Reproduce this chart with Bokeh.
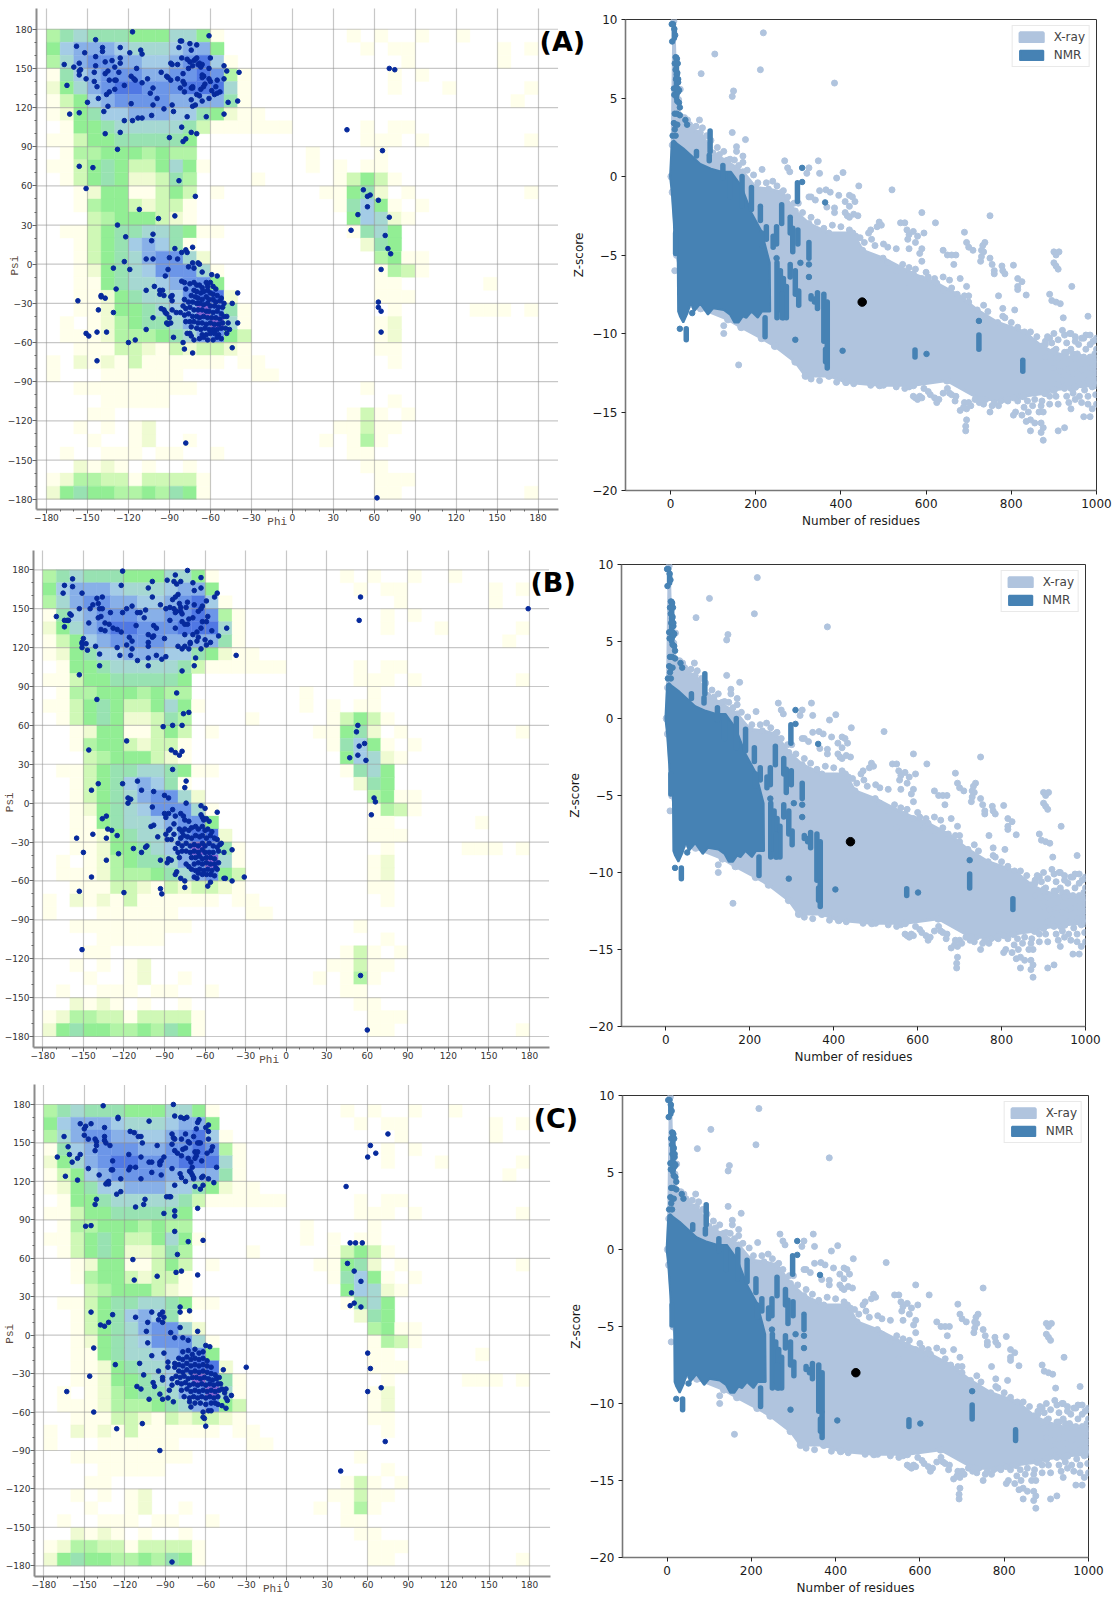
from bokeh.plotting import figure
from bokeh.models import FixedTicker, Label, Legend, LegendItem, Range1d
from bokeh.layouts import row, column
from bokeh.embed import file_html
from bokeh.resources import INLINE

# ---------- Ramachandran background: one row per 10 deg of psi (top = 170..180), one char per 10 deg of phi
RAMA_ROWS = [
 "dfgfffeeeggea....." "....a.a..a..a.....",
 "ehiiihggghiie....." ".....a.aa......a.a",
 "dgijjiihhijkha...." "........a......a..",
 "afhijjjiijjkjda..." ".......a.a........",
 "begijkkjjjkkkga..." ".......a...a.....a",
 "acehijjjjiiiifa..." "................a.",
 "abefhhiiihhfebaa.." "..................",
 ".aeefgggggfcaaaaaa" ".....a.aa.........",
 "aaceefffffe......." ".....aaa.a.......a",
 ".addeeededd......." ".a....a...........",
 "aacefeccegea......" ".a.a.aa...........",
 ".acefebbcfd....a.." "...aceca..........",
 "..abeeaacec.a....." "..aaefb.a........a",
 "..adeecbcca......." "...afhea.a........",
 "...cdeeecba......." "....ehgba.........",
 ".aaceffggfeaa....." "....afge..........",
 "..acefhihfa......." ".....bfe..........",
 "..acefgijjgb......" "......deaa........",
 "..abefghjjjga....." "......adca........",
 "..aaefgghijje....." "......aa......a...",
 "..aabefgghjkkb...." "......aaa.........",
 "..aabeefghimjfa..." ".......a.....aaa.a",
 ".a.abdeffgijmga..." "......ab..........",
 ".aaabdddefgijec..." "......ab..........",
 "..aaaccbacbccba..." "......aa..........",
 "a.babacaaaaaa.aa.." ".......a..........",
 "a...aaaaaa.....aa." "..................",
 "..aaaaaaaaa......." ".....a............",
 "....aaaaa........." ".......a..........",
 "...aa............." "....aca.a.........",
 "..a.a.ab.........." "...aacaa..........",
 "...a..ab..a......." "..a.ada...........",
 ".a..aaa.aa..a....." "....aa............",
 "..baba.a..a......." ".....aa...........",
 "abddccacccca......" "......aaa.........",
 "befeeddedfea......" "......aa.........a",
]
RAMA_COLORS = {"a":"#FFFFEB","b":"#EFFBD2","c":"#CFF8B6","d":"#B2F4A6","e":"#92EE94","f":"#98E2B2",
               "g":"#A6D8D2","h":"#A4CCE6","i":"#88B0E8","j":"#6C96E8","k":"#5078E4","m":"#8A68D2"}
RAMA_TICKS = [-180,-150,-120,-90,-60,-30,0,30,60,90,120,150,180]
RAMA_MINOR = [v for v in range(-180,181,10)]

# ---------- Ramachandran residues (phi, psi)
A_POINTS = [(-117,178),(-144,172),(-158,167),(-152,162),(-139,166),(-139,163),(-126,166),(-119,162),(-111,164),(-110,161),(-61,175),(-144,159),
(-167,153),(-160,151),(-156,154),(-155,149),(-156,148),(-156,145),(-151,142),(-144,152),(-137,155),(-132,156),(-126,158),(-126,154),(-130,151),(-127,147),
(-135,148),(-137,146),(-145,147),(-145,140),(-143,136),(-134,141),(-130,141),(-129,141),(-130,134),(-123,137),(-134,132),(-136,130),(-165,137),(-142,127),
(-150,124),(-118,123),(-102,122),(-138,117),(-135,121),(-156,116),(-163,115),(-123,110),(-117,110),(-113,112),(-110,112),(-103,114),(-87,117),(-88,122),
(-94,119),(-99,127),(-102,135),(-104,131),(-110,139),(-106,142),(-114,150),(-118,144),(-116,142),(-115,141),(-96,147),(-92,144),(-91,143),(-89,141),(-84,142),
(-89,154),(-88,153),(-84,153),(-83,166),(-82,171),(-81,171),(-75,169),(-74,164),(-70,168),(-81,158),(-80,146),(-80,140),(-79,138),(-82,135),(-79,132),
(-74,135),(-73,135),(-73,136),(-74,126),(-73,121),(-71,122),(-77,113),(-63,113),(-70,130),(-68,129),(-66,125),(-61,127),(-77,157),(-75,155),(-72,156),(-71,157),(-70,158),
(-76,150),(-73,152),(-68,154),(-67,152),(-66,153),(-60,158),(-61,150),(-66,145),(-65,144),(-65,144),(-66,143),(-61,142),(-60,140),(-55,141),(-64,138),(-65,136),(-67,134),
(-56,136),(-59,133),(-57,130),(-55,131),(-53,132),(-50,152),(-48,148),(-39,147),(-50,142),(-47,124),(-40,125),(-50,115),(-69,153),(-67,151),
(-90,97),(-81,105),(-74,101),(-70,100),(-80,94),(-78,96),(-137,100),(-126,101),(-128,88),(-156,75),(-146,74),(-83,64),(-151,58),(-71,52),(-112,42),(-98,35),(-86,37),(-128,30),
(-102,23),(-103,18),(-122,21),(-86,12),(-81,9),(-78,11),(-77,9),(-73,13),(-123,2),(-107,4),(-102,4),(-90,5),(-84,4),(-73,1),(-69,1),(-68,0),(-76,-2),(-72,-3),
(-131,-3),(-119,-4),(-91,-4),(-66,-6),(-59,-8),(-55,-9),(-93,-9),(-129,-19),(-107,-20),(-101,-17),(-97,-23),(-94,-24),(-97,-20),(-95,-20),(-89,-25),(-88,-24),(-88,-28),
(-140,-24),(-140,-25),(-137,-26),(-157,-28),(-142,-35),(-131,-37),(-102,-41),(-96,-34),(-94,-35),(-93,-37),(-92,-38),(-90,-41),(-92,-45),(-91,-46),(-89,-45),(-88,-35),(-85,-37),
(-107,-50),(-151,-53),(-149,-55),(-143,-52),(-136,-52),(-143,-74),(-120,-60),(-115,-58),(-87,-56),(-80,-60),(-79,-65),(-73,-68),(-44,-64),(-40,-22),(-44,-30),(-40,-45),
(-48,-40),(-47,-45),(-49,-49),(-48,-53),(-46,-50),(-78,-137),
(-81,-13),(-79,-14),(-78,-19),(-75,-15),(-72,-14),(-70,-16),(-68,-16),(-66,-18),(-63,-14),(-62,-17),(-60,-14),(-58,-17),(-56,-19),(-72,-20),(-70,-21),(-67,-22),(-65,-21),(-62,-20),
(-60,-22),(-58,-23),(-55,-24),(-52,-26),(-74,-24),(-71,-25),(-69,-26),(-66,-27),(-63,-25),(-61,-27),(-58,-27),(-56,-29),(-53,-28),(-50,-30),(-79,-27),(-76,-29),(-73,-29),(-70,-30),
(-68,-30),(-65,-31),(-62,-30),(-60,-32),(-57,-32),(-54,-33),(-51,-33),(-80,-32),(-78,-34),(-75,-33),(-72,-35),(-69,-35),(-66,-35),(-63,-36),(-61,-36),(-58,-37),(-55,-36),(-52,-38),
(-82,-37),(-79,-39),(-76,-38),(-73,-40),(-70,-40),(-68,-41),(-65,-40),(-62,-41),(-59,-41),(-56,-41),(-53,-42),(-50,-40),(-78,-44),(-75,-44),(-72,-44),(-69,-45),(-66,-45),(-63,-46),
(-60,-45),(-57,-46),(-54,-46),(-51,-45),(-74,-48),(-70,-49),(-67,-50),(-64,-49),(-61,-50),(-58,-50),(-55,-50),(-52,-49),(-75,-53),(-74,-55),(-66,-54),(-63,-54),(-60,-53),(-57,-53),
(-54,-54),(-68,-57),(-65,-56),(-62,-58),(-58,-58),(-55,-56),(-52,-57),(-72,-58),(-77,-53),
(71,150),(75,149),(40,103),(66,87),(52,57),(57,53),(55,52),(63,49),(55,44),(48,38),(71,36),(43,26),(68,22),(70,12),(72,8),(65,-4),(63,-29),(63,-33),(65,-36),(65,-52),(62,-179)]

B_POINTS = [(-121,179),(-73,179.5),(-158,173),(-164,168),(-158,167),(-165,162),(-151,162),(-122,168),(-102,166),(-99,171),(-99,159),(-82,176),(-88,172),(-83,171),(-81,169),(-78,171),
(-69,170),(-63,174),(-68,164),(-63,166),(-51,162),(-53,159),(-59,156),(-140,158),(-136,159),(-143,153),(-145,150),(-139,154),(-136,150),(-138,150),(-153,150),(-170,144),(-160,146),(-159,145),
(-164,141),(-162,141),(-161,141),(-164,136),(-146,139),(-139,143),(-137,144),(-134,139),(-131,138),(-137,134),(-134,133),(-128,135),(-125,134),(-122,132),(-130,147),(-121,147),(-118,150),
(-114,152),(-110,147),(-108,147),(-105,143),(-104,149),(-111,137),(-116,128),(-114,125),(-102,130),(-98,129),(-99,128),(-102,124),(-102,121),(-118,122),(-114,119),(-125,120),(-150,127),
(-151,124),(-151,123),(-151,120),(-148,123),(-147,118),(-141,121),(-138,115),(-138,106),(-123,114),(-115,114),(-110,110),(-102,112),(-96,114),(-92,111),(-89,113),(-102,106),(-153,99),(-77,102),
(-68,106),(-67,112),(-63,119),(-98,137),(-96,135),(-93,153),(-89,150),(-86,151),(-83,150),(-84,157),(-82,159),(-80,161),(-79,154),(-78,151),(-78,148),(-77,146),(-82,147),(-81,148),(-86,141),
(-73,155),(-74,151),(-68,153),(-77,140),(-75,138),(-73,138),(-72,142),(-69,143),(-82,135),(-75,130),(-90,127),(-80,121),(-77,119),(-75,121),(-72,119),(-71,123),(-71,124),(-69,130),(-66,132),
(-65,128),(-66,125),(-63,135),(-62,140),(-59,140),(-63,150),(-65,148),(-62,152),(-58,144),(-60,126),(-59,122),(-56,124),(-55,133),(-50,129),(-44,135),(-37,114),(-81,85),(-76,69),(-72,70),(-140,80),
(-91,59),(-84,60),(-77,60),(-118,48),(-146,41),(-85,41),(-82,39),(-79,37),(-77,40),(-84,26),(-139,15),(-144,10),(-121,15),(-110,17),(-107,10),(-98,9),(-74,17),(-75,12),(-90,6),(-87,4),(-117,4),
(-115,3),(-117,0),(-74,0),(-99,-3),(-63,-2),(-60,-4),(-51,-7),(-133,-10),(-136,-12),(-132,-20),(-129,-21),(-125,-25),(-143,-24),(-133,-27),(-155,-27),(-150,-38),(-124,-39),(-133,-44),(-144,-57),
(-153,-68),(-120,-69),(-151,-113),(-100,-18),(-98,-17),(-95,-26),(-113,-35),(-107,-38),(-104,-34),(-103,-33),(-93,-44),(-88,-46),(-87,-43),(-85,-44),(-93,-66),(-92,-70),(-82,-55),(-81,-53),
(-78,-58),(-75,-60),(-75,-65),(-68,-57),(-66,-58),(-58,-64),(-56,-61),(-53,-56),(-46,-58),(-45,-58),(-40,-60),(-31,-57),(-46,-38),(-40,-36),(-49,-32),(-48,-31),
(-89,-11),(-90,-8),(-87,-8),(-84,-5),(-82,-10),(-89,-24),(-87,-21),(-86,-20),(-83,-16),(-83,-24),(-88,-28),(-85,-28),
(-78,-8),(-76,-10),(-75,-13),(-72,-14),(-63,-9),(-62,-11),(-61,-13),(-59,-12),(-57,-14),(-79,-20),(-77,-22),(-75,-20),(-72,-21),(-70,-19),(-67,-18),(-65,-20),(-62,-18),(-60,-21),(-58,-20),(-55,-22),
(-78,-27),(-76,-25),(-73,-26),(-70,-27),(-67,-25),(-64,-26),(-62,-25),(-59,-27),(-56,-25),(-53,-27),(-51,-28),(-80,-31),(-77,-33),(-74,-31),(-71,-33),(-68,-32),(-65,-33),(-62,-31),(-60,-33),(-57,-31),
(-54,-33),(-51,-34),(-82,-35),(-80,-38),(-77,-37),(-74,-37),(-71,-38),(-68,-37),(-65,-38),(-62,-36),(-60,-38),(-57,-38),(-54,-38),(-50,-37),(-79,-42),(-70,-42),(-67,-42),(-64,-41),(-62,-43),(-59,-42),
(-56,-42),(-53,-43),(-74,-47),(-68,-47),(-65,-46),(-62,-47),(-59,-46),(-56,-47),(-53,-47),(-50,-46),(-70,-51),(-67,-52),(-64,-51),(-61,-52),(-58,-51),(-55,-52),(-51,-51),(-65,-54),(-62,-55),(-59,-55),(-56,-55),
(-72,-49),(-52,-50),
(55,159),(54,141),(179,150),(53,60),(52,55),(58,46),(54,44),(53,37),(47,35),(59,33),(65,4),(66,1),(63,-9),(55,-133),(60,-175)]

C_POINTS = [(-136,179),(-84,180),(-83,171),(-78.5,170),(-76,169),(-74,170),(-125,170),(-125,169),(-102,167),(-153,165),(-145,165),(-149,163),(-150,161),(-150,156),(-135,162),(-165,155),
(-147,153),(-142,153),(-141,151),(-141,148),(-135,155),(-135,152),(-134,150),(-131,148),(-162,147),(-161,141),(-159,135),(-155,138),(-153,141),(-170,139),(-142,144),(-147,130),(-164,124),(-155,121),
(-139,125),(-129,136),(-130,129),(-129,129),(-132,120),(-133,119),(-134,118),(-132,118),(-123,122),(-126,110),(-123,112),(-117,141),(-108,139),(-107,150),(-116,159),(-113,158),(-110,155),(-108,155),
(-96,148),(-116,131),(-117,129),(-112,131),(-108,122),(-100,127),(-93,125),(-102,135),(-100,135),(-94,133),(-94,135),(-93,136),(-91,139),(-85,130),(-85,157),(-84,154),(-83,153),(-85,149),(-78,153),
(-75,157),(-73,151),(-72,150),(-69,155),(-83,144),(-81,142),(-78,140),(-77,145),(-75,146),(-73,138),(-71,135),(-70,131),(-79,126),(-78,123),(-75,120),(-72,128),(-71,127),(-70,125),(-69,123),(-69,122),
(-63,123),(-62,124),(-65,150),(-64,150),(-66,150),(-67,161),(-66,166),(-65,168),(-60,162),(-58,164),(-58,159),(-58,153),(-59,142),(-56,144),(-55,147),(-68,143),(-66,143),(-67,140),(-68,138),(-63,136),
(-52,131),(-58,122),(-54,119),(-83,117),(-68,116),(-64,114),(-62,117),(-89,108),(-87,108),(-86,108),(-105,106),(-106,102),(-112,100),(-141,106),(-142,102),(-91,95),(-83,97),(-83,93),(-66,99),(-149,85),
(-145,85.5),(-83,81),(-73,73),(-62,74),(-81,63),(-114,59),(-82,49),(-78,50),(-96,46),(-113,43),(-66,47),(-79,22),(-79,18),(-72,19),(-92,18),(-94,16),(-95,12),(-91,14),(-92,10),(-100,18),(-112,14),(-103,10),
(-129,16),(-132,10),(-135,7),(-138,8),(-145,18),(-104,3),(-86,2),(-79,6),(-66,3),(-83,-2),(-77,-2),(-73,-4),(-103,-6),(-100,-16),(-91,-14),(-143,-10),(-57,-9),(-60,-8),(-127,-23),(-109,-22),(-106,-31),
(-146,-32),(-163,-44),(-95,-28),(-88,-21),(-88,-25),(-83,-22),(-83,-25),(-111,-40),(-108,-42),(-102,-50),(-99,-37),(-98,-40),(-92,-33),(-92,-35),(-94,-46),(-92,-50),(-88,-49),(-87,-43),(-85,-39),(-84,-52),
(-85,-34),(-143,-60),(-126,-73),(-107,-69),(-94,-90),(-85,-177),(-30,-25),(-47,-27),(-62,-64),(-61,-65),(-60,-71),(-62,-60),(-58,-59),(-56,-59),(-51,-54),(-48,-55),(-45,-57),(-41,-47),(-45,-42),(-44,-51),
(-46,-45),(-45,-49),(-48,-42),(-49,-38),(-71,-56),
(-77,-13),(-73,-12),(-70,-15),(-68,-11),(-65,-14),(-62,-13),(-80,-18),(-77,-19),(-74,-17),(-71,-19),(-68,-18),(-65,-19),(-62,-18),(-59,-20),(-80,-23),(-77,-24),(-74,-22),(-71,-24),(-68,-23),(-65,-24),(-62,-23),
(-59,-24),(-56,-25),(-80,-28),(-77,-29),(-74,-27),(-71,-29),(-68,-28),(-65,-29),(-62,-28),(-59,-29),(-56,-30),(-53,-31),(-82,-32),(-79,-33),(-76,-32),(-73,-34),(-70,-33),(-67,-33),(-64,-34),(-61,-33),(-58,-34),
(-55,-35),(-52,-34),(-50,-33),(-81,-37),(-78,-38),(-75,-37),(-72,-39),(-69,-38),(-66,-39),(-63,-38),(-60,-39),(-57,-38),(-54,-39),(-51,-38),(-78,-43),(-74,-42),(-71,-44),(-68,-43),(-65,-44),(-62,-43),(-59,-44),
(-56,-43),(-53,-44),(-50,-43),(-76,-48),(-72,-49),(-69,-48),(-66,-49),(-63,-48),(-60,-49),(-57,-48),(-54,-49),(-51,-48),(-72,-52),(-68,-53),(-64,-53),(-60,-54),(-56,-53),(-53,-53),
(51,72),(47,72),(56,72),(44,116),(60,139),(62,148),(66,142),(75,157),(45,56),(50,50),(55,42),(48,33),(50,25),(47,23),(55,22),(62,-26),(60,-44),(60,-14),(70,-41),(73,-83),(40,-106)]

# ---------- Z-score scatter: outline of the filled X-ray and NMR clouds (residues, z)
XRAY_TOP_N = [4,8,12,15,30,50,70,100,130,170,200,230,261,293,325,372,428,451,499,570,625,673,720,768,831,871,900,950,1000]
XRAY_TOP_Z = [2,9.9,6,4.5,3.5,3,2.8,1.5,1,0.3,-0.7,-0.8,-1,-2.2,-3,-3.6,-3.6,-4.7,-5.2,-6.2,-6.8,-7.5,-8.5,-9.3,-9.9,-10.8,-11.2,-11.6,-11.6]
XRAY_LOW_N = [1000,950,900,879,828,790,728,649,570,491,412,372,317,293,245,214,166,135,71,40,15,5,2]
XRAY_LOW_Z = [-13.3,-13.4,-13.6,-13.8,-14,-14.2,-14.2,-13,-13.3,-13.3,-13.1,-12.7,-12.7,-11.8,-10.8,-10.3,-9.6,-9.1,-8.4,-8.2,-5,-1,0]
NMR_TOP_N = [-1,3,8,15,30,50,70,95,120,142,166,190,214,233]
NMR_TOP_Z = [0,2.2,2.3,2.1,1.8,1.3,0.8,0.5,0.3,0.3,-0.6,-2.3,-3.5,-5.5]
NMR_LOW_N = [234,215,205,190,178,170,160,150,140,125,100,88,70,55,48,40,30,22,18,17,10,8,3]
NMR_LOW_Z = [-8.6,-8.6,-9,-8.6,-9,-8.9,-9.3,-9.3,-8.8,-8.5,-8.4,-8.8,-8.1,-8.6,-8,-8.7,-9.3,-8.9,-8.6,-5,-4.6,-3,-1]

# ---------- X-ray residues outside the filled cloud
XRAY_N = [218,104,72,211,385,23,145,148,19,40,33,25,68,145,176,110,125,155,155,135,150,170,170,268,347,180,215,275,280,325,350,405,390,320,442,520,350,365,375,395,420,427,433,410,325,330,300,340,367,385,385,420,410,415,430,420,440,590,750,622,540,550,490,495,485,690,555,560,570,580,557,595,575,470,465,472,500,510,530,560,590,585,640,650,660,670,695,700,710,730,738,733,735,730,728,750,755,760,760,778,780,785,805,815,825,815,815,835,900,905,912,900,905,910,942,890,895,905,915,922,980,808,780,780,770,665,680,695,700,700,660,620,615,640,600,590,605,550,530,510,
10,160,125,125,1000,950,930,900,880,890,920,940,975,965,985,1000,1000,960,975,945,905,915,880,940,960,980,1000,920,940,960,980,1000,990,970,985,940,935,910,890,870,850,830,815,810,805,825,840,865,875,845,835,855,870,875,870,875,845,910,925,695,693,693,695,680,690,700,670,655,650,625,620,610,575,585,595,750,770,760,725,740,780,795,560,500,
885,880,895,900,893,910,925,930,937,950,958,970,985,992,998,996,985,970,955,940,925,910,900,915,930,945,965,985,998,910,925,945,960,972,990,998,980,965,950,930,905,890,872,855,838,820,805,792,775,755,735,715,705,688,668,660,640,630,605,590,580,570,550,530,470,430,390,350,330,
560,545,575,590,480,455,445,435,420,400,380,360,345,330,310,290,275,265,250,240,225,205,195,160,140,115,95,85,75,60,45,640,655,690,735,745,785,800,815,845,860]
XRAY_Z = [9.15,7.8,6.55,6.8,5.95,5.55,5.1,5.45,4.9,3.6,3.75,3.8,3.6,2.8,2.35,1.85,1.6,1.6,1.9,1.05,1.05,1.3,0.9,1,1,0.4,0.45,0.55,0.3,0.55,0.2,0.25,-0.1,0.2,-0.6,-0.85,-0.9,-0.85,-1,-1.2,-1.2,-1.3,-1.6,-1.6,-1.3,-1.3,-1.7,-1.5,-1.95,-2,-2.3,-1.9,-2.3,-2.5,-2.4,-2.6,-2.5,-2.3,-2.5,-2.95,-2.95,-2.95,-2.9,-3.1,-3.2,-3.55,-3.4,-3.7,-3.5,-3.8,-4,-3.6,-4.2,-3.4,-3.6,-4,-4.3,-4.5,-4.6,-4.6,-4.6,-4.9,-4.7,-5,-5,-5,-4.2,-4.5,-4.7,-4.7,-4.2,-4.4,-4.8,-5.1,-5.4,-5.2,-5.6,-6,-6.2,-5.7,-6,-6.2,-5.65,-6.5,-6.7,-7,-7.2,-7.55,-4.8,-5,-4.8,-5.5,-5.7,-5.9,-7,-7.5,-7.9,-8,-8.1,-9,-8.9,-8.5,-8.4,-8.9,-7.6,-5.6,-6.5,-7,-7.6,-8,-7.1,-6.5,-7.1,-7.3,-6.1,-6.5,-6.4,-7.1,-6,-5.5,
-6,-12,-9.5,-10,-10.3,-10.5,-11.2,-10,-10.5,-10.3,-9.8,-10,-10.1,-10.3,-10.7,-11,-12,-11.5,-11,-11.3,-11,-11.5,-11.5,-12.2,-12.4,-13,-13,-13,-13.5,-14,-14.5,-14.5,-14.8,-15.3,-15.3,-14.8,-14.4,-14.5,-14.5,-14.6,-14.6,-14.7,-14.3,-15,-15.2,-15.2,-15,-15,-15,-15.5,-15.6,-15.7,-15.7,-16,-16.3,-16.8,-16.2,-16.2,-16,-15.5,-15.9,-16.2,-14.8,-14.9,-14.4,-14.4,-14,-13.8,-13.5,-14.4,-14.1,-13.9,-14.1,-14,-13.5,-15,-14.6,-14.4,-14.4,-14.2,-14.2,-14,-13.4,-13.3,
-10.2,-10.7,-10.6,-11.1,-11.6,-10.4,-10.1,-10.6,-10,-10.2,-10.7,-10.3,-10.1,-10.5,-10.4,-11.3,-11.5,-11.5,-11.3,-11,-11.2,-11.6,-12.2,-12.4,-12.3,-12.6,-12.3,-12.2,-12.5,-13.2,-13.5,-13.8,-13.2,-13.6,-13.4,-13.9,-14,-14.4,-14.2,-14,-14,-14,-14.3,-14.2,-14.3,-14,-14.1,-14.3,-14.3,-14.6,-14.5,-14.2,-14.6,-14.7,-14.3,-13.9,-13.8,-14.2,-13.7,-14.1,-14.2,-14,-13.5,-13.4,-13.3,-13.2,-13.1,-13,-12.9,
-5.8,-5.6,-5.9,-5.4,-4.4,-4.2,-3.9,-3.8,-3.4,-3.2,-3.1,-3.3,-2.9,-2.6,-2.3,-1.7,-1.3,-0.9,-0.6,-0.3,-0.4,-0.4,0.1,0.7,1.1,1.4,2.3,2.6,3.1,3.2,3.3,-6.4,-6.6,-7.6,-8.2,-8.6,-9,-9.3,-9.6,-9.9,-10.2]

# ---------- NMR single residues
NMR_N = [3,6,9,11,4,12,15,10,17,12,15,13,18,16,18,8,12,16,20,9,14,18,16,20,22,10,15,22,35,39,8,12,16,10,5,12,309,309,363,325,325,249,305,404,601,724,293,22,51]
NMR_Z = [9.7,9.7,9.4,9,8.6,7.6,7.5,7.2,7.2,6.8,6.5,6.2,6,6.6,6.2,5.6,5.6,5.6,5.5,5.2,5.2,5.4,4.8,4.7,4.4,4,4,3.9,3.6,3.3,3.4,3.3,3.3,3,2.6,2.6,0.55,-0.35,-1.65,-5.6,-6.4,-5.2,-5.5,-11.1,-11.3,-9.2,-10.4,-9.7,-8.7]
# ---------- NMR vertical runs: residues, top z, bottom z
RUN_N =   [93,91,61,123,140,168,190,211,261,298,281,287,299,325,249,241,225,214,281,293,301,330,338,345,360,368,368,364,574,724,827,250,258,265,272,262,222,37,12,9,14]
RUN_TOP = [2.9,1.35,1.6,0.7,0.1,0,-0.7,-1.9,-1.8,-0.4,-2.6,-3.3,-3.4,-4.2,-3.2,-3.8,-3.2,-3.6,-5.6,-6,-7.3,-7.6,-7.8,-7.4,-7.5,-8,-10.6,-11,-11.05,-10.1,-11.7,-5.5,-6,-6.5,-7,-7.5,-9,-9.7,-3.6,9.4,7.6]
RUN_LOW = [1.6,1,1.3,-0.1,-1.3,-1.9,-2.1,-2.8,-3,-1.6,-3.6,-4.8,-4.3,-5.2,-4.3,-4.5,-4,-4.4,-6.4,-7.5,-8.2,-7.8,-8,-8.4,-10.5,-10.5,-12.2,-11.8,-11.5,-11,-12.4,-9,-8.5,-9,-9,-9,-10.2,-10.4,-4.9,8.8,5]

Z_X_TICKS = [0,200,400,600,800,1000]
Z_Y_TICKS = [-20,-15,-10,-5,0,5,10]
BLACK_N = {"A":450,"B":440,"C":448}
BLACK_Z = -8

DOT = "#06299C"
GREY = "#8c8c8c"
NB = "\u00a0"

def rama(points, tag, tag_x, tag_y, height, bl, bt, bb, xr, yr, grid_end, phi_pad, psi_pad, psi_standoff):
    p = figure(width=590, height=height, output_backend="svg", toolbar_location=None,
               x_range=Range1d(*xr), y_range=Range1d(*yr),
               min_border_left=bl, min_border_right=0, min_border_top=bt, min_border_bottom=bb,
               background_fill_color=None, border_fill_color=None, outline_line_color=None,
               x_axis_label="Phi"+NB*phi_pad, y_axis_label="Psi"+NB*psi_pad)
    L,R,T,B,C = [],[],[],[],[]
    for i, rw in enumerate(RAMA_ROWS):
        for j, ch in enumerate(rw):
            if ch != ".":
                L.append(-180+10*j); R.append(-170+10*j); T.append(180-10*i); B.append(170-10*i); C.append(RAMA_COLORS[ch])
    p.quad(left=L, right=R, top=T, bottom=B, fill_color=C, line_color=C, line_width=0.4, level="image")
    p.segment([xr[0]]*len(RAMA_TICKS), RAMA_TICKS, [grid_end]*len(RAMA_TICKS), RAMA_TICKS,
              line_color="#8f8f8f", line_dash="1 1", line_width=1.2, level="underlay")
    p.scatter([a for a,_ in points],[b for _,b in points], size=4.6, color=DOT, line_color=DOT)
    for ax in (p.xaxis[0], p.yaxis[0]):
        ax.ticker = FixedTicker(ticks=RAMA_TICKS, minor_ticks=RAMA_MINOR)
        ax.major_label_text_font = "DejaVu Sans"
        ax.major_label_text_font_size = "9px"
        ax.major_label_text_color = "#333333"
        ax.axis_line_color = GREY
        ax.axis_line_width = 2
        ax.major_tick_line_color = "#666666"
        ax.minor_tick_line_color = "#666666"
        ax.major_tick_out = 4; ax.major_tick_in = 0
        ax.minor_tick_out = 2; ax.minor_tick_in = 0
        ax.major_label_standoff = 0
        ax.axis_label_text_font = "Liberation Mono"
        ax.axis_label_text_font_size = "11px"
        ax.axis_label_text_font_style = "normal"
        ax.axis_label_text_color = "#5a4a40"
    p.xaxis[0].bounds = (xr[0], grid_end)
    p.xaxis[0].axis_label_standoff = -8
    p.yaxis[0].axis_label_standoff = psi_standoff
    p.ygrid.visible = False
    g = p.xgrid[0]
    g.ticker = FixedTicker(ticks=RAMA_TICKS)
    g.grid_line_color = "#8f8f8f"
    g.grid_line_dash = "1 1"
    g.grid_line_width = 1.2
    g.level = "underlay"
    p.add_layout(Label(x=tag_x, y=tag_y, text=tag, text_font="DejaVu Sans", text_font_style="bold",
                       text_font_size="27px", text_color="black", text_align="left", text_baseline="middle"))
    return p

def zplot(tag, height, bl, br, bt, bb):
    p = figure(width=547, height=height, output_backend="svg", toolbar_location=None,
               x_range=Range1d(-105.6,1000), y_range=Range1d(-20,10),
               min_border_left=bl, min_border_right=br, min_border_top=bt, min_border_bottom=bb,
               background_fill_color=None, border_fill_color=None,
               outline_line_color="#333333", outline_line_width=1,
               x_axis_label="Number of residues", y_axis_label="Z-score")
    p.grid.visible = False
    light = "#B0C4DE"; dark = "#4682B4"
    x_patch = p.patch(XRAY_TOP_N+XRAY_LOW_N, XRAY_TOP_Z+XRAY_LOW_Z, fill_color=light, line_color=light, line_width=3)
    p.scatter(XRAY_N, XRAY_Z, size=6, color=light, line_color=light)
    p.scatter(XRAY_LOW_N, XRAY_LOW_Z, size=7, color=light, line_color=light)
    p.scatter(XRAY_TOP_N, XRAY_TOP_Z, size=6, color=light, line_color=light)
    n_patch = p.patch(NMR_TOP_N+NMR_LOW_N, NMR_TOP_Z+NMR_LOW_Z, fill_color=dark, line_color=dark, line_width=2)
    p.segment(RUN_N, RUN_TOP, RUN_N, RUN_LOW, line_color=dark, line_width=5.5, line_cap="round")
    p.scatter(NMR_N, NMR_Z, size=5.5, color=dark, line_color=dark)
    p.scatter([BLACK_N[tag]],[BLACK_Z], size=8.5, color="black", line_color="black")
    leg = Legend(items=[LegendItem(label="X-ray", renderers=[x_patch]), LegendItem(label="NMR", renderers=[n_patch])],
                 location="top_right", margin=6, padding=4, spacing=4, glyph_width=29, glyph_height=12,
                 label_standoff=8, label_text_font="DejaVu Sans", label_text_font_size="12px",
                 label_height=12, label_text_line_height=1.0,
                 border_line_color="#d4d4d4", border_line_width=1, background_fill_color="white", background_fill_alpha=0.85)
    p.add_layout(leg)
    p.xaxis.ticker = FixedTicker(ticks=Z_X_TICKS)
    p.yaxis.ticker = FixedTicker(ticks=Z_Y_TICKS)
    for ax in (p.xaxis[0], p.yaxis[0]):
        ax.minor_tick_line_color = None
        ax.major_tick_out = 4; ax.major_tick_in = 0
        ax.major_tick_line_color = "#222222"
        ax.axis_line_color = "#777777"; ax.axis_line_width = 1.6
        ax.major_label_text_font = "DejaVu Sans"
        ax.major_label_text_font_size = "12px"
        ax.major_label_text_color = "#1a1a1a"
        ax.axis_label_text_font = "DejaVu Sans"
        ax.axis_label_text_font_style = "normal"
        ax.axis_label_text_font_size = "12px"
        ax.axis_label_text_color = "#1a1a1a"
        ax.major_label_standoff = 4
        ax.axis_label_standoff = 3
    return p

# rows: A 0..532, B 532..1072, C 1072..1597 ; left figures 0..590, right figures 565..1112
ra = rama(A_POINTS, "(A)", 181, 171, 532, 36, 8, 23, (-187.3,218.3), (-187.9,195.9), 194.9, 11, 2, -16)
za = zplot("A", 532, 60, 16, 19, 42)
rb = rama(B_POINTS, "(B)", 180.7, 170, 540, 33, 18, 25, (-186.9,225.1), (-188.5,194.9), 194.8, 13, 1, -14)
zb = zplot("B", 540, 50, 27, 32, 46)
rc = rama(C_POINTS, "(C)", 183, 169, 525, 33, 12, 20, (-186.9,225.1), (-188.3,195.6), 195.5, 12, 1, -13)
zc = zplot("C", 525, 57, 24, 23, 37)

def pair(left, right):
    # each figure in a column of its own, so the row does not line up their frames
    return row(column(left), column(right, margin=(0,0,0,-25)), spacing=0)

page = column(pair(ra, za), pair(rb, zb), pair(rc, zc), spacing=0)
open("out.html", "w").write(file_html(page, INLINE).replace("</head>", "<style>html,body{margin:0;overflow:hidden}</style></head>"))
